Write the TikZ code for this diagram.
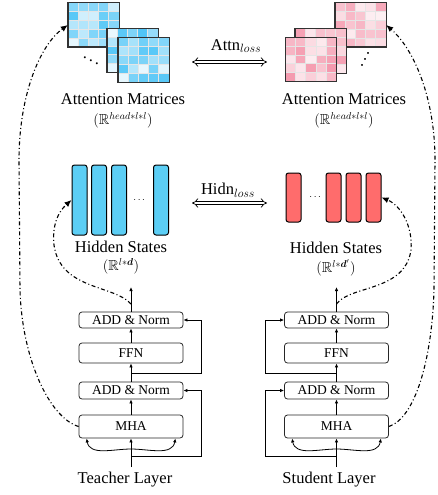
\documentclass[tikz,border=0pt]{standalone}
\usepackage{fontspec}
\setmainfont{Liberation Serif}
\usepackage{amsmath}
\usepackage{amssymb}
\usepackage{bm}
\usetikzlibrary{arrows.meta}
\usetikzlibrary{calc}
\usetikzlibrary{positioning}
\definecolor{tcyan}{RGB}{92,206,245}
\definecolor{scoral}{RGB}{255,108,108}
\definecolor{matcyan}{RGB}{60,190,245}
\definecolor{matpink}{RGB}{238,96,128}
\definecolor{matedge}{RGB}{50,50,50}
\newcommand{\lblfont}{\fontsize{16.5}{18}\selectfont}
\newcommand{\dimfont}{\fontsize{14.5}{16}\selectfont}
\tikzset{
	matbox/.style={minimum width=51pt, minimum height=44pt, inner sep=0pt},
	gridline/.style={white!80!gray, line width=0.6pt},
	tbar/.style={draw=black, line width=1pt, rounded corners=2.5pt, fill=tcyan, minimum width=15pt, minimum height=70pt, inner sep=0pt},
	sbar/.style={draw=black, line width=1pt, rounded corners=2.5pt, fill=scoral, minimum width=15pt, minimum height=49pt, inner sep=0pt},
	layer/.style={draw=black!85, rounded corners=3pt, line width=0.8pt, minimum width=104pt, inner sep=0pt, font=\fontsize{13.5}{15}\selectfont},
	lbl/.style={font=\lblfont, inner sep=1pt},
	dim/.style={font=\dimfont, inner sep=0.5pt},
	flow/.style={line width=0.8pt, -{Latex[length=4pt,width=3.5pt]}},
	distill/.style={line width=1.1pt, dash pattern=on 4pt off 2.5pt on 1pt off 2.5pt, -{Latex[length=7pt,width=6pt]}},
	lossarrow/.style={double, double distance=2.5pt, line width=0.7pt, {Implies}-{Implies}}
}
% name, centre, colour, seed, shade range
\newcommand{\attnmat}[5]{%
	\node[matbox] (#1) at (#2) {};
	\pgfmathsetseed{#4}
	\foreach \i in {0,...,4}{
		\foreach \j in {0,...,4}{
			\pgfmathtruncatemacro{\shd}{10+#5*rnd}
			\fill[#3!\shd!white] ($(#1.north west)+(\i*10.2,\j*8.8)$) rectangle ++(10.2,8.8);
		}
	}
	\foreach \k in {1,...,4}{
		\draw[gridline] ($(#1.north west)+(\k*10.2,0)$) -- ++(0,44);
		\draw[gridline] ($(#1.north west)+(0,\k*8.8)$) -- ++(51,0);
	}
	\draw[matedge, line width=1.4pt] (#1.north west) rectangle (#1.south east);
}

\begin{document}
\begin{tikzpicture}[x=1pt, y=-1pt]
	\useasboundingbox (0,0) rectangle (438,495);

	% Attention matrices
	\attnmat{ta1}{93.5,25}{matcyan}{11}{80}
	\attnmat{ta2}{132.5,50.5}{matcyan}{23}{80}
	\attnmat{ta3}{143.5,60}{matcyan}{37}{80}
	\node[font=\lblfont] (tadots) at (91,58) {$\ddots$};
	\attnmat{sa1}{360.5,25}{matpink}{41}{55}
	\attnmat{sa2}{320.5,51}{matpink}{53}{55}
	\attnmat{sa3}{311,59.5}{matpink}{67}{55}
	\node[font=\lblfont, rotate=90] (sadots) at (362,59) {$\ddots$};

	\node[lbl] (tattnlbl) at (123,99) {Attention Matrices};
	\node[dim] (tattndim) at (123,120) {$(\mathbb{R}^{head*l*l})$};
	\node[lbl] (sattnlbl) at (344,99) {Attention Matrices};
	\node[dim] (sattndim) at (344,120) {$(\mathbb{R}^{head*l*l})$};

	% Attention loss
	\node[lbl] (attnloss) at (236,46) {Attn$_{loss}$};
	\coordinate (attnL) at (192,62);
	\coordinate (attnR) at (267,62);
	\draw[lossarrow] (attnL) -- (attnR);

	% Hidden states
	\node[tbar] (tbar1) at (79.5,200) {};
	\node[tbar] (tbar2) at (99,200) {};
	\node[tbar] (tbar3) at (119,200) {};
	\node (tbdots) at (140,200) {$\cdots$};
	\node[tbar] (tbar4) at (161,200) {};
	\node[sbar] (sbar1) at (293.5,197.5) {};
	\node (sbdots) at (316,197.5) {$\cdots$};
	\node[sbar] (sbar2) at (333.5,197.5) {};
	\node[sbar] (sbar3) at (353.5,197.5) {};
	\node[sbar] (sbar4) at (373.5,197.5) {};

	\node[lbl] (thidlbl) at (121,247) {Hidden States};
	\node[dim] (thiddim) at (121,266) {$(\mathbb{R}^{l*\bm{d}})$};
	\node[lbl] (shidlbl) at (336,248) {Hidden States};
	\node[dim] (shiddim) at (336,268) {$(\mathbb{R}^{l*\bm{d}'})$};

	% Hidden loss
	\node[lbl] (hidnloss) at (228,190) {Hidn$_{loss}$};
	\coordinate (hidnL) at (192,203);
	\coordinate (hidnR) at (267,203);
	\draw[lossarrow] (hidnL) -- (hidnR);

	% Teacher layer
	\node[layer, minimum height=23pt] (tmha) at (131,426.5) {MHA};
	\node[layer, minimum height=17pt] (tadd1) at (131,390.5) {ADD \& Norm};
	\node[layer, minimum height=20pt] (tffn) at (131,353) {FFN};
	\node[layer, minimum height=16pt] (tadd2) at (131,320) {ADD \& Norm};
	\node[lbl] (tlayer) at (125,480) {Teacher Layer};
	\coordinate (tin) at (131,467);
	\coordinate (tres1) at (131,456);
	\coordinate (tfork) at (131,449);
	\coordinate (tres2) at (131,373);
	\coordinate (ttap) at (131,304);
	\coordinate (tout) at (131,287);

	\draw[flow] (tin) -- (tmha);
	\draw[flow] (tmha) -- (tadd1);
	\draw[flow] (tadd1) -- (tffn);
	\draw[flow] (tffn) -- (tadd2);
	\draw[flow] (tadd2) -- (tout);
	\draw[flow] (tres1) -| ($(tadd1.east)+(18,0)$) -- (tadd1.east);
	\draw[flow] (tres2) -| ($(tadd2.east)+(18,0)$) -- (tadd2.east);
	\draw[flow] (tfork) to[out=180, in=-80] ([xshift=8pt]tmha.south west);
	\draw[flow] (tfork) to[out=0, in=-100] ([xshift=-8pt]tmha.south east);

	% Student layer
	\node[layer, minimum height=23pt] (smha) at (336.5,426.5) {MHA};
	\node[layer, minimum height=17pt] (sadd1) at (336.5,390.5) {ADD \& Norm};
	\node[layer, minimum height=20pt] (sffn) at (336.5,353) {FFN};
	\node[layer, minimum height=16pt] (sadd2) at (336.5,320) {ADD \& Norm};
	\node[lbl] (slayer) at (329,480) {Student Layer};
	\coordinate (sin) at (336.5,467);
	\coordinate (sres1) at (336.5,456);
	\coordinate (sfork) at (336.5,449);
	\coordinate (sres2) at (336.5,373);
	\coordinate (stap) at (336.5,304);
	\coordinate (sout) at (336.5,287);

	\draw[flow] (sin) -- (smha);
	\draw[flow] (smha) -- (sadd1);
	\draw[flow] (sadd1) -- (sffn);
	\draw[flow] (sffn) -- (sadd2);
	\draw[flow] (sadd2) -- (sout);
	\draw[flow] (sres1) -| ($(sadd1.west)+(-19,0)$) -- (sadd1.west);
	\draw[flow] (sres2) -| ($(sadd2.west)+(-19,0)$) -- (sadd2.west);
	\draw[flow] (sfork) to[out=180, in=-80] ([xshift=8pt]smha.south west);
	\draw[flow] (sfork) to[out=0, in=-100] ([xshift=-8pt]smha.south east);

	% Distillation paths
	\draw[distill] (tmha.west) .. controls (50,418) and (22,360) .. (20,290) -- (19,160) .. controls (19,95) and (40,45) .. (ta1.west);
	\draw[distill] (ttap) .. controls (115,285) and (60,290) .. (54,245) .. controls (52,225) and (58,212) .. (tbar1.west);
	\draw[distill] (smha.east) .. controls (415,418) and (432,360) .. (434,290) -- (435,160) .. controls (435,100) and (415,50) .. (sa1.east);
	\draw[distill] (stap) .. controls (350,285) and (405,292) .. (411,250) .. controls (413,225) and (400,205) .. (sbar4.east);
\end{tikzpicture}
\end{document}
